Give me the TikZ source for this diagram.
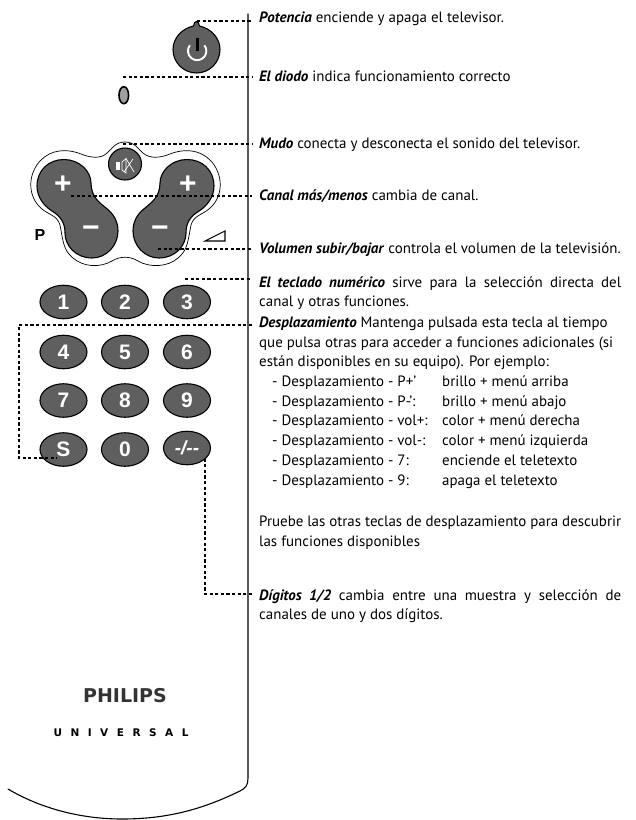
\documentclass[tikz,border=0pt]{standalone}
\usepackage{fontspec}
\setmainfont{PT Sans}
\newfontfamily\arialb[BoldFont={Liberation Sans Bold}]{Liberation Sans}
\newfontfamily\logofont{DejaVu Sans}
\definecolor{btn}{HTML}{5F5F5F}
\tikzset{
  body/.style={line width=1.1pt,line cap=round},
  leader/.style={line width=1.2pt,dash pattern=on 3.2pt off 2.4pt},
  keyshape/.style={draw=black,line width=1.1pt,fill=btn},
  numkey/.style={keyshape,ellipse,minimum width=47pt,minimum height=33.5pt,inner sep=0pt,text=white,font=\arialb\bfseries\fontsize{21}{21}\selectfont},
  sign/.style={text=white,inner sep=0pt,font=\arialb\bfseries\fontsize{30}{30}\selectfont},
  lbl/.style={anchor=base west,inner sep=0pt,font=\fontsize{14.95}{17}\selectfont},
}
\newcommand{\jline}[1]{\makebox[362pt][s]{#1}}
\newcommand{\kw}[1]{\textbf{\textit{#1}}}
\usetikzlibrary{shapes.geometric}
\begin{document}
\begin{tikzpicture}[x=1pt,y=-1pt]
\useasboundingbox (0,0) rectangle (636,820);
% body
\draw[body] (248,14) -- (248,778) .. controls (248,785) and (246,788) .. (240,791)
  .. controls (205,808) and (170,819) .. (122,819) .. controls (80,819) and (40,808) .. (8,789);
% power
\draw[keyshape] (193.5,26) .. controls (194.5,20) and (198.5,20) .. (199.5,26)
  .. controls (211,28.5) and (220,38) .. (220,49.5) arc[start angle=0,end angle=180,x radius=23.5,y radius=23.5]
  .. controls (173,38) and (182,28.5) .. (193.5,26) -- cycle;
\draw[white,line width=1.9pt] (189.9,45.3) arc[start angle=218,end angle=-38,x radius=9.2,y radius=9.2];
\draw[black,line width=3pt] (197,38) -- (197,50.5);
% diode
\draw[line width=1.6pt,fill=gray!75] (123.8,95.2) ellipse[x radius=4.8,y radius=8.5];
% outer outline
\draw[line width=.7pt] (125,142) .. controls (135,142) and (138,149) .. (143,153)
  .. controls (150,159) and (160,158) .. (170,154) .. controls (185,148) and (200,150) .. (210,160)
  .. controls (222,172) and (224,192) .. (213,205) .. controls (205,215) and (194,214) .. (191,225)
  .. controls (188,240) and (188,250) .. (178,258) .. controls (168,267) and (150,268) .. (138,261)
  .. controls (130,256) and (120,256) .. (112,261) .. controls (100,268) and (83,267) .. (73,258)
  .. controls (63,250) and (63,240) .. (60,225) .. controls (57,214) and (46,215) .. (38,205)
  .. controls (27,192) and (29,172) .. (41,160) .. controls (51,150) and (66,148) .. (81,154)
  .. controls (91,158) and (101,159) .. (107,153) .. controls (112,149) and (115,142) .. (125,142) -- cycle;
% rocker keys
\newcommand{\rockerpath}{(37,186) .. controls (37,170) and (49,159.5) .. (64,159.5)
  .. controls (79,159.5) and (91,171) .. (91,183) .. controls (91,197) and (100,203) .. (106,208)
  .. controls (114,214) and (118,222) .. (118,231)
  .. controls (118,246) and (106,258) .. (92,258) .. controls (76,258) and (65,246) .. (65,233)
  .. controls (65,222) and (60,216) .. (52,211) .. controls (44,206) and (37,197) .. (37,186) -- cycle}
\draw[keyshape] \rockerpath;
\begin{scope}[shift={(251,0)},xscale=-1]
\draw[keyshape] \rockerpath;
\end{scope}
\node[sign] (chplus) at (63,185) {+};
\node[sign] (chminus) at (91,232) {−};
\node[sign] (volplus) at (188,185) {+};
\node[sign] (volminus) at (160,232) {−};
% mute
\node[keyshape,ellipse,minimum width=33pt,minimum height=32pt,inner sep=0pt] (mute) at (125,164) {};
\fill[white] (116,162) rectangle (119.5,170);
\draw[white,line width=.7pt] (122,162) -- (126,158.5) -- (126,173) -- (122,170) -- cycle;
\draw[white,line width=.7pt] (126,158.5) -- (134,172) (124,172) -- (133,159);
% labels on the remote
\node[inner sep=0pt,font=\arialb\bfseries\fontsize{16}{16}\selectfont] (plabel) at (40,235) {P};
\draw[line width=1.1pt,line join=miter] (205,241) -- (225,231) -- (225,241) -- cycle;
% number keys
\node[numkey] (k1) at (63.5,302) {1};
\node[numkey] (k2) at (125,302) {2};
\node[numkey] (k3) at (187,302) {3};
\node[numkey] (k4) at (63.5,352) {4};
\node[numkey] (k5) at (125,352) {5};
\node[numkey] (k6) at (187,352) {6};
\node[numkey] (k7) at (63.5,400.5) {7};
\node[numkey] (k8) at (125,400.5) {8};
\node[numkey] (k9) at (187,400.5) {9};
\node[numkey] (kS) at (63.5,449.5) {S};
\node[numkey] (k0) at (125,449.5) {0};
\node[numkey,font=\arialb\bfseries\itshape\fontsize{19}{19}\selectfont] (kd) at (187,448) {-/--};
% brand
\node[inner sep=0pt,text=black!80,font=\logofont\bfseries\fontsize{19}{19}\selectfont] (philips) at (125,696) {PHILIPS};
\node[inner sep=0pt,font=\logofont\bfseries\fontsize{10.5}{10}\selectfont] (universal) at (121,733) {U\hspace{8.5pt}N\hspace{8.5pt}I\hspace{8.5pt}V\hspace{8.5pt}E\hspace{8.5pt}R\hspace{8.5pt}S\hspace{8.5pt}A\hspace{8.5pt}L};
% texts
\node[lbl] (t1) at (259,22.5) {\kw{Potencia} enciende y apaga el televisor.};
\node[lbl] (t2) at (259,81.5) {\kw{El diodo} indica funcionamiento correcto};
\node[lbl] (t3) at (259,148.5) {\kw{Mudo} conecta y desconecta el sonido del televisor.};
\node[lbl] (t4) at (259,200.5) {\kw{Canal más/menos} cambia de canal.};
\node[lbl] (t5) at (259,253.5) {\kw{Volumen subir/bajar} controla el volumen de la televisión.};
\node[lbl] (t6) at (259,287) {\jline{\kw{El teclado numérico} sirve para la selección directa del}};
\node[lbl] (t6b) at (259,306.5) {canal y otras funciones.};
\node[lbl] (t7) at (259,327) {\kw{Desplazamiento} Mantenga pulsada esta tecla al tiempo};
\node[lbl] (t7b) at (259,347) {que pulsa otras para acceder a funciones adicionales (si};
\node[lbl] (t7c) at (259,366.5) {están disponibles en su equipo). Por ejemplo:};
\foreach \yy/\aa/\bb in {386/{P+'}/{brillo + menú arriba},406/{P-':}/{brillo + menú abajo},425.5/{vol+:}/{color + menú derecha},445/{vol-:}/{color + menú izquierda},465/{7:}/{enciende el teletexto},485/{9:}/{apaga el teletexto}}{
  \node[lbl] at (272,\yy) {- Desplazamiento - \aa};
  \node[lbl] at (442,\yy) {\bb};
}
\node[lbl] (t8) at (259,526.5) {\jline{Pruebe las otras teclas de desplazamiento para descubrir}};
\node[lbl] (t8b) at (259,546.5) {las funciones disponibles};
\node[lbl] (t9) at (259,600) {\jline{\kw{Dígitos 1/2} cambia entre una muestra y selección de}};
\node[lbl] (t9b) at (259,619) {canales de uno y dos dígitos.};
% leaders
\coordinate (e1) at (252,21); \coordinate (s1) at (197,21);
\coordinate (e2) at (252,77); \coordinate (s2) at (123,77);
\coordinate (e3) at (252,144); \coordinate (s3) at (123,144);
\coordinate (e4) at (252,196); \coordinate (s4) at (71,196);
\coordinate (e5) at (252,249); \coordinate (s5) at (158,249);
\coordinate (e6) at (252,279); \coordinate (s6) at (185,279);
\coordinate (e7) at (252,325); \coordinate (s7) at (57,458);
\coordinate (e8) at (252,594); \coordinate (s8) at (205,457);
\draw[leader] (s1) -- (e1);
\draw[leader] (s2) -- (e2);
\draw[leader] (s3) -- (e3);
\draw[leader] (s4) -- (e4);
\draw[leader] (s5) -- (e5);
\draw[leader] (s6) -- (e6);
\draw[leader] (e7) -- (19,325) -- (19,458) -- (s7);
\draw[leader] (e8) -- (205,594) -- (s8);
\end{tikzpicture}
\end{document}
